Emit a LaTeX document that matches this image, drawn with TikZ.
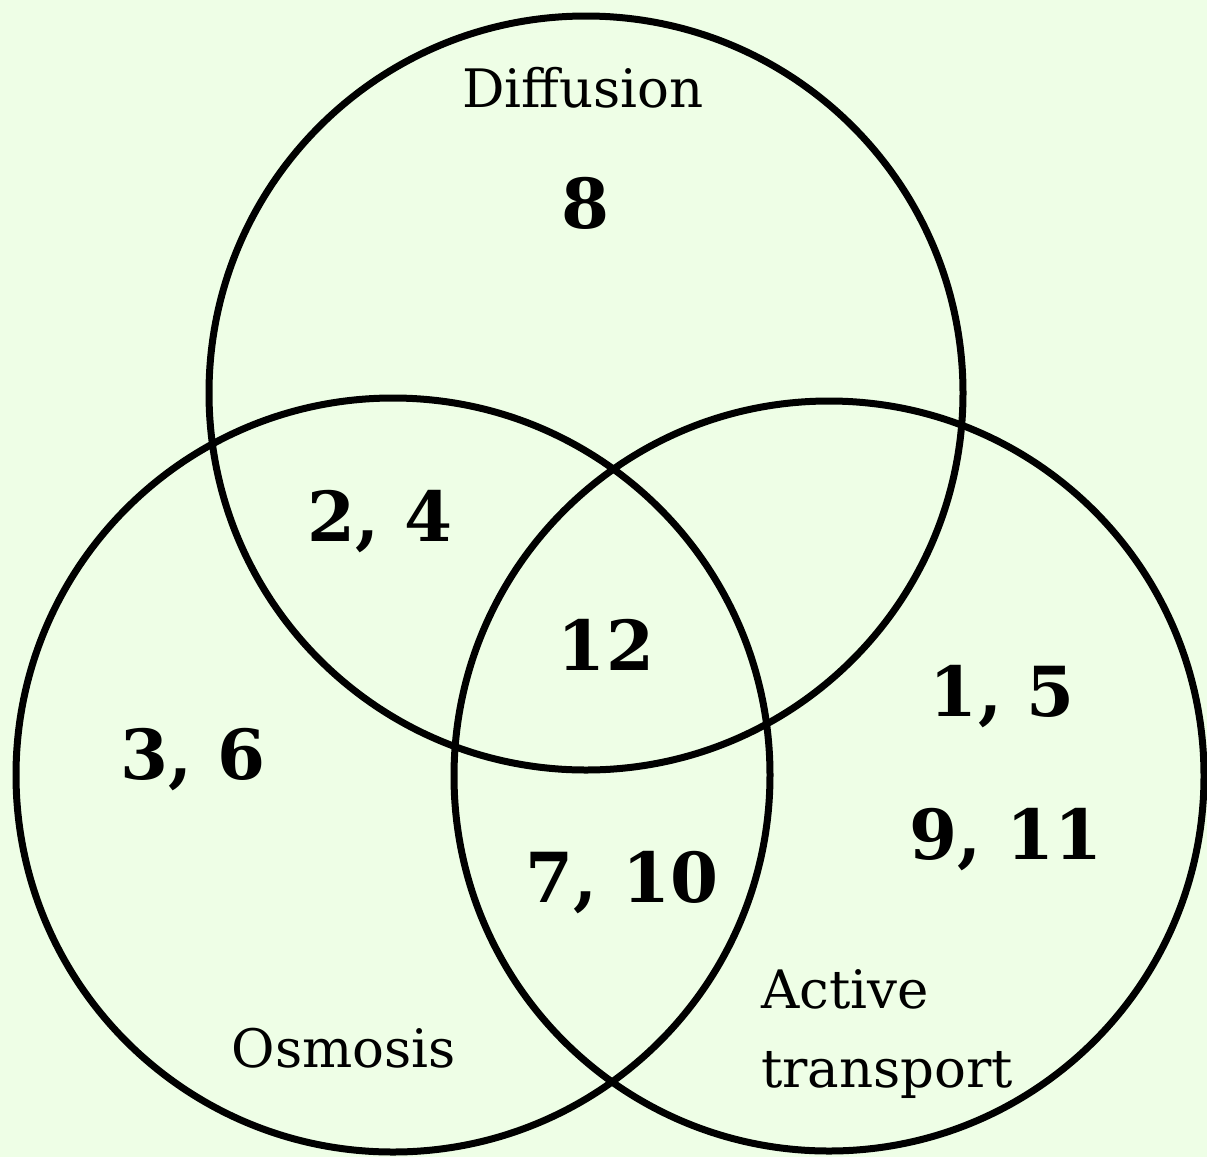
\documentclass[tikz,border=0pt]{standalone}
\usepackage{fontspec}
\setmainfont{DejaVu Serif}
\definecolor{bg}{RGB}{238,254,230}
\begin{document}
\begin{tikzpicture}[x=1pt,y=-1pt,
  ring/.style={draw=black,line width=7pt},
  lab/.style={font=\fontsize{53}{80}\selectfont,inner sep=0pt},
  num/.style={font=\fontsize{69}{80}\selectfont\bfseries,inner sep=0pt}]
\fill[bg] (0,0) rectangle (1207,1157);
\useasboundingbox (0,0) rectangle (1207,1157);
\draw[ring] (586,393) circle (377);
\draw[ring] (393,775) circle (377);
\draw[ring] (829,776) circle (375);
\node[lab] (dif) at (583,88) {Diffusion};
\node[lab] (osm) at (344,1048) {Osmosis};
\node[lab,align=left,anchor=north west,font=\fontsize{53}{79}\selectfont] (act) at (761,969) {Active\\transport};
\node[num] (n8) at (585,203) {8};
\node[num] (n24) at (380,522) {2, 4};
\node[num] (n12) at (606,645) {12};
\node[num] (n36) at (193,760) {3, 6};
\node[num] (n15) at (1002,697) {1, 5};
\node[num] (n911) at (1006,840) {9, 11};
\node[num] (n710) at (622,883) {7, 10};
\end{tikzpicture}
\end{document}
